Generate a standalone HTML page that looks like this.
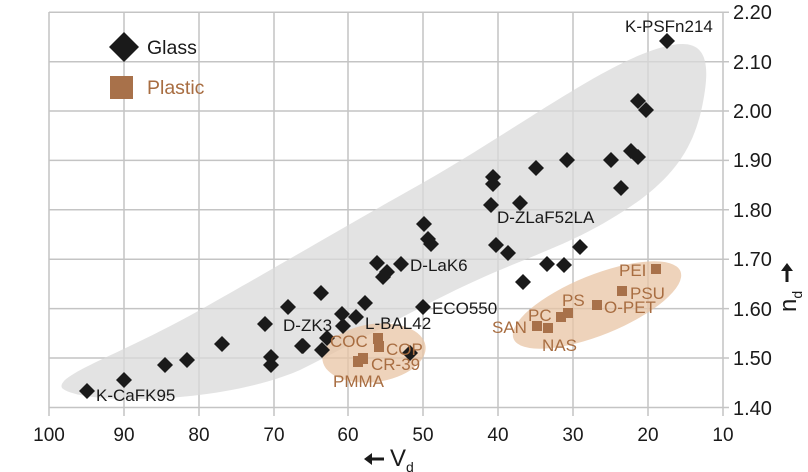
<!DOCTYPE html>
<html><head><meta charset="utf-8"><style>body{margin:0;background:#fff}svg{display:block}text{font-family:"Liberation Sans",Arial,sans-serif}</style></head><body>
<svg width="808" height="472" viewBox="0 0 808 472" xmlns="http://www.w3.org/2000/svg">
<g stroke="#c4c4c4" stroke-width="1.5">
<line x1="49" y1="12" x2="49" y2="416"/><line x1="124" y1="12" x2="124" y2="416"/><line x1="199" y1="12" x2="199" y2="416"/><line x1="274" y1="12" x2="274" y2="416"/><line x1="348" y1="12" x2="348" y2="416"/><line x1="423" y1="12" x2="423" y2="416"/><line x1="498" y1="12" x2="498" y2="416"/><line x1="573" y1="12" x2="573" y2="416"/><line x1="648" y1="12" x2="648" y2="416"/><line x1="723" y1="12" x2="723" y2="416"/>
<line x1="49" y1="12.3" x2="729" y2="12.3"/><line x1="49" y1="61.7" x2="729" y2="61.7"/><line x1="49" y1="111" x2="729" y2="111"/><line x1="49" y1="160.4" x2="729" y2="160.4"/><line x1="49" y1="209.8" x2="729" y2="209.8"/><line x1="49" y1="259.2" x2="729" y2="259.2"/><line x1="49" y1="308.6" x2="729" y2="308.6"/><line x1="49" y1="358" x2="729" y2="358"/><line x1="49" y1="407.5" x2="729" y2="407.5"/>
</g>
<path d="M62,388 C55,375 120,355 200,310 C280,265 330,235 410,190 C500,140 580,80 640,55 C690,35 712,40 705,90 C698,140 680,170 640,200 C590,235 560,245 500,270 C440,295 380,330 300,370 C220,405 80,405 62,388 Z" fill="#d9d9d9" fill-opacity="0.75"/>
<ellipse cx="374" cy="353" rx="52" ry="29" transform="rotate(-8 374 353)" fill="#e8c4a4" fill-opacity="0.75"/>
<ellipse cx="597" cy="305" rx="90" ry="30" transform="rotate(-22 597 305)" fill="#e8c4a4" fill-opacity="0.75"/>
<g fill="#1a1a1a">
<path d="M87,383l8,8-8,8-8-8z"/><path d="M124,372l8,8-8,8-8-8z"/><path d="M165,357l8,8-8,8-8-8z"/><path d="M187,352l8,8-8,8-8-8z"/><path d="M222,336l8,8-8,8-8-8z"/><path d="M271,349l8,8-8,8-8-8z"/><path d="M271,357l8,8-8,8-8-8z"/><path d="M302,338l8,8-8,8-8-8z"/><path d="M322,342l8,8-8,8-8-8z"/><path d="M327,330l8,8-8,8-8-8z"/><path d="M303,338l8,8-8,8-8-8z"/><path d="M265,316l8,8-8,8-8-8z"/><path d="M288,299l8,8-8,8-8-8z"/><path d="M321,285l8,8-8,8-8-8z"/><path d="M342,306l8,8-8,8-8-8z"/><path d="M343,318l8,8-8,8-8-8z"/><path d="M356,309l8,8-8,8-8-8z"/><path d="M365,295l8,8-8,8-8-8z"/><path d="M410,345l8,8-8,8-8-8z"/><path d="M377,255l8,8-8,8-8-8z"/><path d="M387,264l8,8-8,8-8-8z"/><path d="M383,269l8,8-8,8-8-8z"/><path d="M401,256l8,8-8,8-8-8z"/><path d="M423,299l8,8-8,8-8-8z"/><path d="M424,216l8,8-8,8-8-8z"/><path d="M428,231l8,8-8,8-8-8z"/><path d="M431,236l8,8-8,8-8-8z"/><path d="M496,237l8,8-8,8-8-8z"/><path d="M508,245l8,8-8,8-8-8z"/><path d="M580,239l8,8-8,8-8-8z"/><path d="M547,256l8,8-8,8-8-8z"/><path d="M564,257l8,8-8,8-8-8z"/><path d="M523,274l8,8-8,8-8-8z"/><path d="M493,169l8,8-8,8-8-8z"/><path d="M493,176l8,8-8,8-8-8z"/><path d="M491,197l8,8-8,8-8-8z"/><path d="M520,195l8,8-8,8-8-8z"/><path d="M536,160l8,8-8,8-8-8z"/><path d="M567,152l8,8-8,8-8-8z"/><path d="M611,152l8,8-8,8-8-8z"/><path d="M621,180l8,8-8,8-8-8z"/><path d="M631,143l8,8-8,8-8-8z"/><path d="M638,149l8,8-8,8-8-8z"/><path d="M638,93l8,8-8,8-8-8z"/><path d="M646,102l8,8-8,8-8-8z"/><path d="M667,33l8,8-8,8-8-8z"/>
<path d="M124,32l15,15-15,15-15-15z"/>
</g>
<g fill="#a8714a">
<rect x="373" y="333" width="10" height="11"/><rect x="374" y="341" width="10" height="11"/><rect x="353" y="356" width="10" height="11"/><rect x="358" y="353" width="10" height="11"/><rect x="651" y="264" width="10" height="10"/><rect x="617" y="286" width="10" height="10"/><rect x="592" y="300" width="10" height="10"/><rect x="563" y="308" width="10" height="10"/><rect x="556" y="312" width="10" height="10"/><rect x="532" y="321" width="10" height="10"/><rect x="543" y="323" width="10" height="10"/>
<rect x="110" y="76" width="23" height="23"/>
</g>
<g font-size="17" fill="#1a1a1a">
<text x="147" y="54" font-size="19.5">Glass</text>
<text x="96" y="401">K-CaFK95</text><text x="625" y="32">K-PSFn214</text><text x="497" y="223">D-ZLaF52LA</text><text x="410" y="271">D-LaK6</text><text x="432" y="314">ECO550</text><text x="283" y="331">D-ZK3</text><text x="365" y="329">L-BAL42</text>
</g>
<g font-size="17" fill="#a86d41">
<text x="147" y="94" font-size="19.5">Plastic</text>
<text x="330" y="347">COC</text><text x="386" y="355">COP</text><text x="371" y="370">CR-39</text><text x="333" y="387">PMMA</text>
<text x="619" y="276">PEI</text><text x="630" y="299">PSU</text><text x="604" y="313">O-PET</text><text x="562" y="306">PS</text><text x="528" y="321">PC</text><text x="492" y="333">SAN</text><text x="542" y="351">NAS</text>
</g>
<g font-size="19" fill="#1a1a1a">
<text x="49" y="441" text-anchor="middle">100</text><text x="124" y="441" text-anchor="middle">90</text><text x="199" y="441" text-anchor="middle">80</text><text x="274" y="441" text-anchor="middle">70</text><text x="348" y="441" text-anchor="middle">60</text><text x="423" y="441" text-anchor="middle">50</text><text x="498" y="441" text-anchor="middle">40</text><text x="573" y="441" text-anchor="middle">30</text><text x="648" y="441" text-anchor="middle">20</text><text x="723" y="441" text-anchor="middle">10</text>
</g>
<g font-size="20" fill="#1a1a1a">
<text x="733" y="19">2.20</text><text x="733" y="69">2.10</text><text x="733" y="118">2.00</text><text x="733" y="167">1.90</text><text x="733" y="217">1.80</text><text x="733" y="266">1.70</text><text x="733" y="316">1.60</text><text x="733" y="365">1.50</text><text x="733" y="415">1.40</text>
</g>
<g fill="#1a1a1a" stroke="#1a1a1a">
<line x1="368" y1="459" x2="384" y2="459" stroke-width="3"/><path d="M364,459l8,-6v12z" stroke="none"/>
<line x1="787" y1="282" x2="787" y2="268" stroke-width="3"/><path d="M787,263l-6,8h12z" stroke="none"/>
</g>
<text x="390" y="466" font-size="24" fill="#1a1a1a">V<tspan font-size="14" dy="6">d</tspan></text>
<text transform="translate(796,312) rotate(-90)" font-size="24" fill="#1a1a1a">n<tspan font-size="14" dy="6">d</tspan></text>
</svg>
</body></html>
